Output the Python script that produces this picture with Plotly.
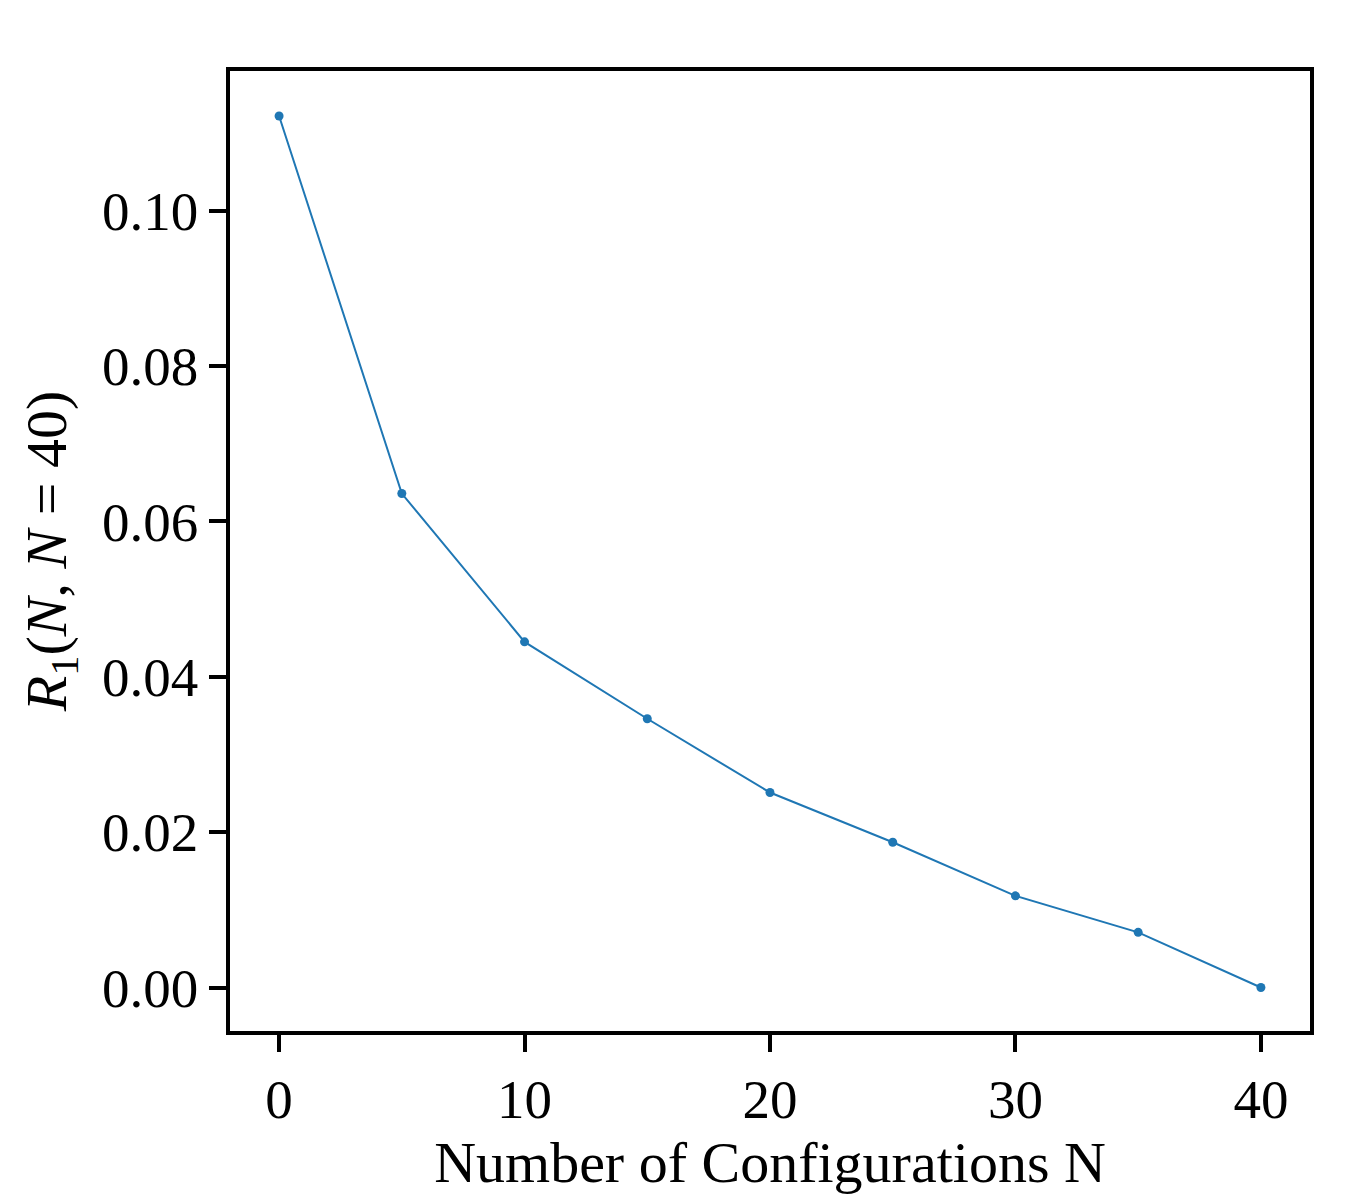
import plotly.graph_objects as go

n_configs = [0, 5, 10, 15, 20, 25, 30, 35, 40]
r1_values = [0.1122, 0.0636, 0.0445, 0.0346, 0.0251, 0.0187, 0.0118, 0.0071, 0.0]

x_ticks = [0, 10, 20, 30, 40]
y_ticks = [0.00, 0.02, 0.04, 0.06, 0.08, 0.10]
y_tick_labels = ["0.00", "0.02", "0.04", "0.06", "0.08", "0.10"]

font_family = "Liberation Serif, DejaVu Serif, serif"

fig = go.Figure()
fig.add_trace(go.Scatter(
    x=n_configs, y=r1_values, mode="lines+markers",
    line=dict(color="#1f77b4", width=2),
    marker=dict(color="#1f77b4", size=9),
    showlegend=False,
))

axis_common = dict(
    showline=True, mirror=True, linecolor="black", linewidth=3.5,
    ticks="outside", ticklen=17, tickwidth=3.5, tickcolor="black",
    showgrid=False, zeroline=False,
    tickfont=dict(family=font_family, size=55, color="black"),
)

fig.update_layout(
    width=1350, height=1200,
    paper_bgcolor="white", plot_bgcolor="white",
    margin=dict(l=230, r=40, t=71, b=169),
    font=dict(family=font_family, color="black"),
    xaxis=dict(
        range=[-2, 42], tickvals=x_ticks,
        title=dict(text="Number of Configurations N", font=dict(family=font_family, size=58), standoff=14),
        **axis_common,
    ),
    yaxis=dict(
        range=[-0.0056, 0.118], tickvals=y_ticks, ticktext=y_tick_labels,
        title=dict(text="<i>R</i><sub>1</sub>(<i>N</i>, <i>N</i> = 40)", font=dict(family=font_family, size=58), standoff=18),
        **axis_common,
    ),
)

fig.write_html("out.html")
